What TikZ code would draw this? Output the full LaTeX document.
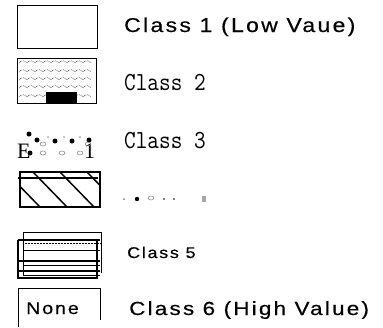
\documentclass[tikz,border=0pt]{standalone}
\usepackage{fontspec}
\newfontfamily\sansls[LetterSpace=10,FakeBold=0.4]{Liberation Sans}
\newfontfamily\seriff{Liberation Serif}
\begin{document}
\begin{tikzpicture}[x=1pt,y=-1pt,
  lbl/.style={anchor=base west,inner sep=0pt},
  boxline/.style={line width=1pt},
  wave/.style={line width=0.6pt,densely dotted},
  bigdot/.style={fill=black},
  cloud/.style={draw=gray,line width=0.5pt},
  hatch/.style={line width=1.5pt}]
\useasboundingbox (0,0) rectangle (383,327);
% Class 1
\draw[boxline] (17,5) rectangle (97,48);
\node[lbl] (c1) at (124,32) {\fontsize{20}{22}\sansls\scalebox{1.15}[1]{Class 1 (Low Vaue)}};
% Class 2
\draw[boxline] (17,58) rectangle (96,103);
\foreach \yy in {63,72,80,88,97}{
  \foreach \xx in {19,27,...,87}{
    \draw[wave] (\xx,\yy) .. controls (\xx+2,\yy-3) and (\xx+6,\yy-3) .. (\xx+8,\yy);
  }
}
\fill[black] (46,92) rectangle (77,103);
\node[lbl] (c2) at (124,90) {\fontsize{22.6}{24}\ttfamily\scalebox{1}[1.15]{Class 2}};
% Class 3 symbols
\node[lbl] (e3) at (17,158) {\fontsize{22}{24}\seriff E};
\node[lbl] (one3) at (84,158) {\fontsize{22}{24}\seriff 1};
\foreach \p in {(29,134),(37,140),(55,141),(72,141),(89,140),(30,153)}{
  \fill[bigdot] \p circle (2.5);
}
\foreach \p in {(48,137),(64,137),(80,137)}{
  \fill[black] \p circle (0.7);
}
\foreach \p in {(43,144),(43,153),(62,153),(80,153),(88,144)}{
  \draw[cloud] \p ellipse (3 and 2);
}
\node[lbl] (c3) at (124,148) {\fontsize{22.6}{24}\ttfamily\scalebox{1}[1.15]{Class 3}};
% Class 4
\begin{scope}
  \clip (20,172) rectangle (100,207);
  \foreach \xx in {6,33,60,87}{
    \draw[hatch] (\xx,172) -- (\xx+34,207);
  }
\end{scope}
\draw[boxline,line width=1.3pt] (20,172) rectangle (100,207);
\draw[line width=1.5pt] (18,178) -- (98,178);
% Class 4 label (faint marks)
\fill[gray] (124,199) circle (1);
\fill[black] (137,199) circle (2.2);
\draw[cloud] (151,198) ellipse (3 and 2);
\fill[black] (164,199) circle (0.8);
\fill[black] (174,199) circle (0.8);
\fill[gray!70] (202,196) rectangle (206,202);
% Class 5
\draw[line width=1pt] (23,232) -- (101,232);
\draw[line width=1pt] (23,232) -- (23,275);
\draw[line width=1pt] (101,232) -- (101,273);
\draw[line width=1.5pt] (18,240) -- (100,240);
\draw[line width=0.5pt,densely dotted] (23,243) -- (100,243);
\draw[line width=0.6pt] (23,250) -- (100,250);
\draw[line width=1.5pt] (18,261) -- (100,261);
\draw[line width=0.6pt] (23,265) -- (100,265);
\draw[line width=1.5pt] (18,271) -- (100,271);
\draw[line width=0.6pt] (23,275) -- (100,275);
\draw[line width=1.3pt] (18,240) -- (18,278) -- (97,278) -- (97,240);
\node[lbl] (c5) at (127,258) {\fontsize{15.5}{17}\sansls\scalebox{1.15}[1]{Class 5}};
% Class 6
\draw[line width=0.8pt] (18,327) -- (18,288) -- (100,288) -- (100,320);
\node[lbl] (none) at (26,314) {\fontsize{17}{18}\sansls\scalebox{1.15}[1]{None}};
\node[lbl] (c6) at (129,315) {\fontsize{19}{20}\sansls\scalebox{1.18}[1]{Class 6 (High Value)}};
\end{tikzpicture}
\end{document}
